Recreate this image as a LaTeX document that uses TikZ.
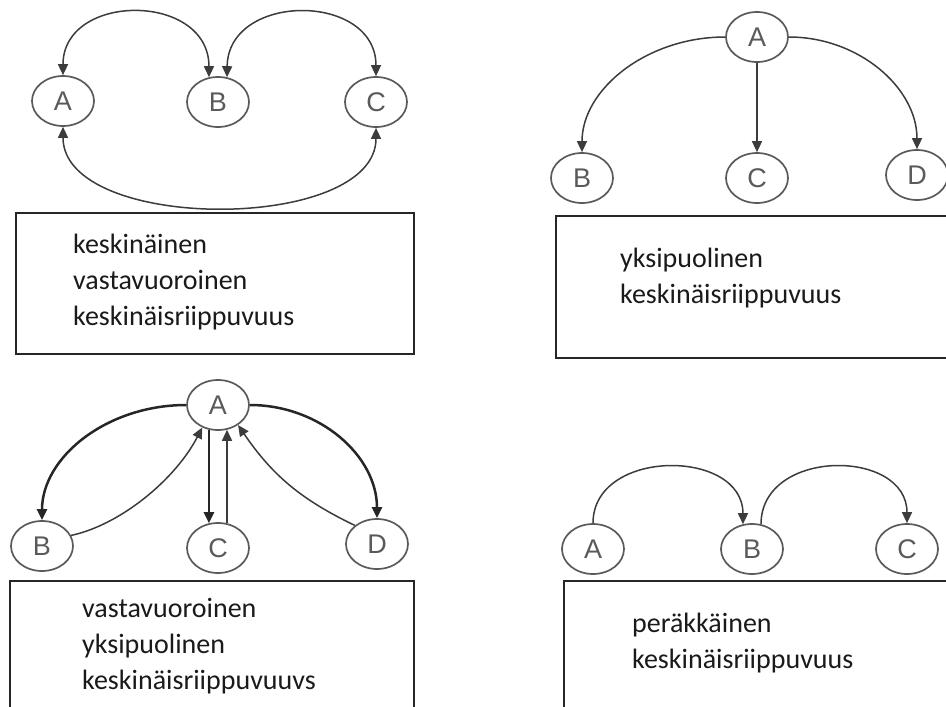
\documentclass[tikz,border=0pt]{standalone}
\usepackage{fontspec}
\setmainfont{Carlito}
\newfontfamily\partyfont{Liberation Sans}
\usetikzlibrary{arrows.meta,positioning,shapes.geometric}
\definecolor{linegray}{HTML}{3C3C3C}
\definecolor{ringgray}{HTML}{5A5A5A}
\definecolor{textdark}{HTML}{1A1A1A}
\tikzset{
  party/.style={ellipse, draw=ringgray, line width=1.7pt, minimum width=62pt,
    minimum height=50pt, inner sep=0pt, text=ringgray,
    font=\partyfont\fontsize{27}{27}\selectfont},
  >={Triangle[length=11pt,width=10pt]},
  link/.style={draw=linegray, line width=1.5pt, ->},
  twoway/.style={draw=linegray, line width=1.5pt, <->},
  strong link/.style={draw=black!85, line width=2.5pt, ->},
  frame/.style={draw=black!85, line width=1.6pt, anchor=north west, inner sep=0pt},
  caption/.style={anchor=north west, inner sep=0pt, align=left, text=textdark,
    font=\fontsize{28}{36}\selectfont},
}

\begin{document}
\begin{tikzpicture}[x=1pt, y=-1pt]
      \useasboundingbox (0,0) rectangle (946,707);
      \clip (0,0) rectangle (946,707);

      % Top left: A, B and C all tied to each other
      \node[party] (A1) at (63,101) {A};
      \node[party] (B1) at (218,102) {B};
      \node[party] (C1) at (376,102) {C};
      \draw[twoway] (A1.north) .. controls (63,-8) and (209,-8) .. (B1.110);
      \draw[twoway] (B1.70) .. controls (228,-8) and (376,-8) .. (C1.north);
      \draw[twoway] (A1.south) .. controls (63,233) and (376,233) .. (C1.south);

      \node[frame, minimum width=398pt, minimum height=141pt] (frame1) at (15,212) {};
      \node[caption, below right=15.8pt and 58pt of frame1.north west] (text1)
        {\strut keskinäinen\\vastavuoroinen\\keskinäisriippuvuus};

      % Top right: A feeds B, C and D
      \node[party] (A2) at (757,37) {A};
      \node[party] (B2) at (582,178) {B};
      \node[party] (C2) at (757,178) {C};
      \node[party] (D2) at (917,175) {D};
      \draw[link] (A2.west) .. controls (647,37) and (582,89) .. (B2.north);
      \draw[link] (A2) -- (C2);
      \draw[link] (A2.east) .. controls (859,37) and (917,88) .. (D2.north);

      \node[frame, minimum width=400pt, minimum height=142pt] (frame2) at (555,215) {};
      \node[caption, below right=26.8pt and 65pt of frame2.north west] (text2)
        {\strut yksipuolinen\\keskinäisriippuvuus};

      % Bottom left: A out to B, C, D and back again
      \node[party] (A3) at (218,405) {A};
      \node[party] (B3) at (42,546) {B};
      \node[party] (C3) at (218,548) {C};
      \node[party] (D3) at (377,544) {D};
      \draw[strong link] (A3.west) .. controls (107,405) and (42,457) .. (B3.north);
      \draw[strong link] (A3.east) .. controls (320,405) and (377,456) .. (D3.north);
      \draw[strong link] (A3.250) -- (C3.110);
      \draw[link] (C3.70) -- (A3.290);
      \draw[link] (B3.20) .. controls (120,525) and (175,480) .. (A3.235);
      \draw[link] (D3.140) to[bend left=15] (A3.315);

      \node[frame, minimum width=404pt, minimum height=140pt] (frame3) at (9,580) {};
      \node[caption, below right=11.8pt and 73pt of frame3.north west] (text3)
        {\strut vastavuoroinen\\yksipuolinen\\keskinäisriippuvuuvs};

      % Bottom right: A to B, B to C
      \node[party] (A4) at (593,549) {A};
      \node[party] (B4) at (752,549) {B};
      \node[party] (C4) at (907,549) {C};
      \draw[link] (A4.north) .. controls (593,448) and (743,448) .. (B4.110);
      \draw[link] (B4.70) .. controls (761,448) and (907,448) .. (C4.north);

      \node[frame, minimum width=400pt, minimum height=140pt] (frame4) at (563,580) {};
      \node[caption, below right=26.8pt and 69pt of frame4.north west] (text4)
        {\strut peräkkäinen\\keskinäisriippuvuus};
\end{tikzpicture}
\end{document}
